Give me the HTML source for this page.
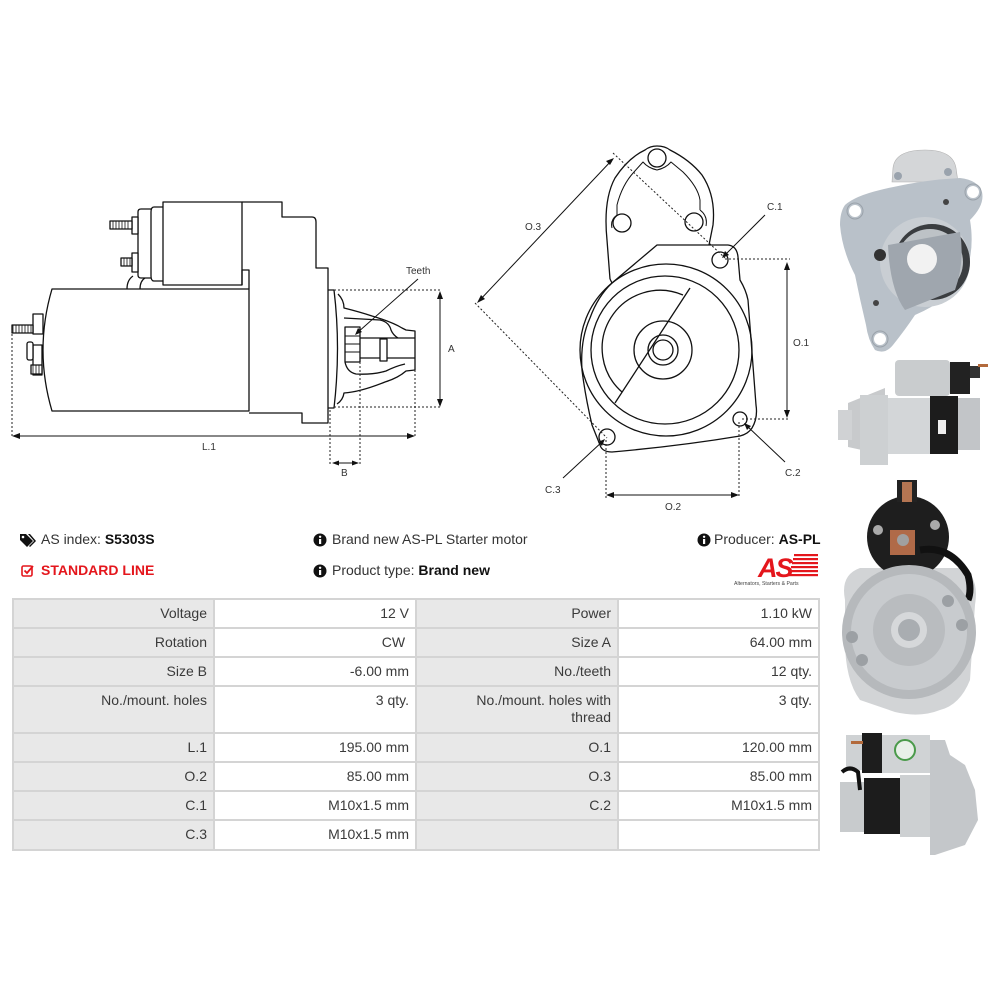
<!DOCTYPE html>
<html><head><meta charset="utf-8">
<style>
html,body{margin:0;padding:0;background:#fff;}
body{width:1000px;height:1000px;position:relative;overflow:hidden;font-family:"Liberation Sans",Arial,sans-serif;color:#333;}
.abs{position:absolute;white-space:nowrap;}
.hd{font-size:14px;color:#333;}
.hd b{color:#111;}
table{position:absolute;left:12px;top:598px;border-collapse:collapse;font-size:14px;color:#3a3a3a;}
td{border:2px solid #d4d4d4;text-align:right;vertical-align:top;padding:5px 6px 0 6px;line-height:17px;box-sizing:border-box;}
td.l{background:#e8e8e8;}
td.v{background:#fff;}
</style></head><body>

<svg class="abs" style="left:0;top:0" width="1000" height="1000" viewBox="0 0 1000 1000">
<g fill="none" stroke="#111" stroke-width="1.3" stroke-linejoin="round">
  <!-- LEFT SIDE VIEW -->
  <path d="M52,289 L249,289 L249,411 L52,411 Q34,350 52,289 Z" fill="#fff"/>
  <rect x="33" y="314" width="10" height="20" fill="#fff"/>
  <rect x="12" y="325" width="21" height="8" fill="#fff"/>
  <path d="M13,325 V333 M16,325 V333 M19,325 V333 M22,325 V333 M25,325 V333 M28,325 V333 M31,325 V333" stroke-width="0.8"/>
  <rect x="33" y="345" width="9" height="30" fill="#fff"/>
  <rect x="27" y="342" width="6" height="18" rx="2" fill="#fff"/>
  <rect x="31" y="365" width="11" height="9" fill="#fff"/>
  <path d="M33,365 V374 M36,365 V374 M39,365 V374" stroke-width="0.8"/>
  <rect x="163" y="202" width="79" height="83" fill="#fff"/>
  <path d="M163,207 L154,207 Q151,207 151,212 L151,276 Q151,281 154,281 L163,281"/>
  <path d="M151,209 L141,209 Q138,209 138,212 L138,275 Q138,278 141,278 L151,278"/>
  <rect x="132" y="217" width="6" height="17" fill="#fff"/>
  <rect x="110" y="221" width="22" height="8" fill="#fff"/>
  <path d="M113,221 V229 M116,221 V229 M119,221 V229 M122,221 V229 M125,221 V229 M128,221 V229" stroke-width="0.8"/>
  <rect x="132" y="253" width="6" height="19" fill="#fff"/>
  <rect x="121" y="258" width="11" height="8" fill="#fff"/>
  <path d="M124,258 V266 M127,258 V266 M130,258 V266" stroke-width="0.8"/>
  <path d="M127,289 Q127,280 133,276 M140,289 Q140,281 145,278"/>
  <path d="M242,202 L282,202 L282,217 L312,217 Q316,217 316,222 L316,268 L328,268 L328,423 L302,423 L302,413 L249,413" fill="none"/>
  <path d="M242,285 L242,270 L249,270 L249,289"/>
  <path d="M328,290 L334,290 Q341,348 334,408 L328,408"/>
  <path d="M338,294 Q344,300 344,308 Q360,312 372,316 Q392,322 402,328 L406,330 L415,331 L415,370 L406,371 Q398,378 385,382 Q360,392 344,393 Q343,400 337,404"/>
  <path d="M344,318 L380,320 Q389,322 391,330 Q393,335 398,338"/>
  <path d="M345,362 Q347,372 356,374 Q372,375 386,371 Q396,366 405,364"/>
  <rect x="345" y="327" width="15" height="35" fill="#fff"/>
  <path d="M345,336 H360 M345,344 H360 M345,352 H360" stroke-width="0.9"/>
  <path d="M360,338 H415 M360,358 H415"/>
  <rect x="380" y="339" width="7" height="22" fill="#fff"/>
</g>
<g fill="none" stroke="#222" stroke-width="1" stroke-dasharray="2,2">
  <path d="M12,330 V438 M415,370 V438"/>
  <path d="M334,290 H441 M334,407 H441"/>
  <path d="M330,410 V465 M360,362 V465"/>
</g>
<g fill="none" stroke="#111" stroke-width="1">
  <path d="M14,436 H413"/>
  <path d="M440,293 V405"/>
  <path d="M333,463 H358"/>
  <path d="M418,279 L357,333"/>
</g>
<g fill="#111">
  <path d="M12,436 L20,433 L20,439 Z"/>
  <path d="M415,436 L407,433 L407,439 Z"/>
  <path d="M440,291 L437,299 L443,299 Z"/>
  <path d="M440,407 L437,399 L443,399 Z"/>
  <path d="M332,463 L339,460.5 L339,465.5 Z"/>
  <path d="M359,463 L352,460.5 L352,465.5 Z"/>
  <path d="M355,335 L358,328 L362,332 Z"/>
</g>
<g font-family="Liberation Sans, sans-serif" font-size="10" fill="#333">
  <text x="406" y="274">Teeth</text>
  <text x="448" y="352">A</text>
  <text x="202" y="450">L.1</text>
  <text x="341" y="476">B</text>
</g>

<!-- MIDDLE FRONT VIEW -->
<g fill="none" stroke="#111" stroke-width="1.3" stroke-linejoin="round">
  <path d="M610,279 L607,240 Q603,200 615,178 Q628,158 645,150 Q650,146 657,146 Q665,146 670,150 Q690,160 702,175 Q716,196 713,225 L709,245" fill="#fff"/>
  <path d="M617,215 L617,205 Q622,185 634,172 L643,162 Q648,168 657,170 Q666,168 671,162 L683,172 Q698,187 700,200 L700,210" stroke-width="1"/>
  <path d="M617,215 Q610,220 612,228 M700,210 Q708,216 706,226" stroke-width="1"/>
  <circle cx="657" cy="158" r="9"/>
  <circle cx="622" cy="223" r="9"/>
  <circle cx="694" cy="222" r="9"/>
  <path d="M657,245 L728,245 Q737,246 738,257 L740,280 Q746,290 748,300 L756,405 Q758,418 752,428 Q748,434 740,436 Q680,446 612,452 Q602,452 600,445 Q596,435 592,425 Q585,395 582,370 Q580,340 590,318 Q598,296 612,283 Z" fill="#fff"/>
  <path d="M612,283 L610,279"/>
  <circle cx="666" cy="350" r="86"/>
  <circle cx="665" cy="350" r="74"/>
  <path d="M690,288 L615,403"/>
  <path d="M683,295 A58,58 0 0 0 622,392"/>
  <circle cx="663" cy="350" r="29"/>
  <circle cx="663" cy="350" r="15"/>
  <circle cx="663" cy="350" r="10"/>
  <circle cx="720" cy="260" r="8" fill="#fff"/>
  <circle cx="740" cy="419" r="7" fill="#fff"/>
  <circle cx="607" cy="437" r="8" fill="#fff"/>
</g>
<g fill="none" stroke="#222" stroke-width="1" stroke-dasharray="2,2">
  <path d="M613,153 L725,258"/>
  <path d="M475,303 L607,438"/>
  <path d="M725,259 H790 M742,419 H790"/>
  <path d="M606,440 V498 M739,422 V498"/>
</g>
<g fill="none" stroke="#111" stroke-width="1">
  <path d="M612,160 L479,301"/>
  <path d="M787,265 V415"/>
  <path d="M609,495 H736"/>
  <path d="M765,215 L724,256"/>
  <path d="M785,462 L746,425"/>
  <path d="M563,478 L603,441"/>
</g>
<g fill="#111">
  <path d="M614,158 L606,161 L610,165 Z"/>
  <path d="M477,303 L481,295 L485,299 Z"/>
  <path d="M787,262 L784,270 L790,270 Z"/>
  <path d="M787,418 L784,410 L790,410 Z"/>
  <path d="M606,495 L614,492 L614,498 Z"/>
  <path d="M739,495 L731,492 L731,498 Z"/>
  <path d="M722,258 L725,251 L729,255 Z"/>
  <path d="M744,423 L751,426 L747,430 Z"/>
  <path d="M605,439 L598,442 L602,446 Z"/>
</g>
<g font-family="Liberation Sans, sans-serif" font-size="10" fill="#333">
  <text x="525" y="230">O.3</text>
  <text x="767" y="210">C.1</text>
  <text x="793" y="346">O.1</text>
  <text x="785" y="476">C.2</text>
  <text x="545" y="493">C.3</text>
  <text x="665" y="510">O.2</text>
</g>

<!-- PHOTOS -->
<g>
  <path d="M893,168 Q895,150 925,150 Q953,150 956,168 L958,182 L892,182 Z" fill="#d4d6d8" stroke="#b0b0b0" stroke-width="0.6"/>
  <circle cx="898" cy="176" r="4" fill="#9aa3ad"/>
  <circle cx="948" cy="172" r="4" fill="#9aa3ad"/>
  <path d="M845,205 Q855,196 880,190 Q920,180 960,178 Q978,180 982,192 Q985,205 970,220 Q975,250 965,275 Q950,300 915,315 Q905,330 893,345 Q885,355 875,350 Q868,340 866,325 Q860,300 855,275 Q842,250 840,225 Q840,212 845,205 Z" fill="#b9c1c9"/>
  <circle cx="855" cy="211" r="6" fill="#fff"/><circle cx="855" cy="211" r="8" fill="none" stroke="#9aa2aa" stroke-width="1"/>
  <circle cx="973" cy="192" r="6" fill="#fff"/><circle cx="973" cy="192" r="8" fill="none" stroke="#9aa2aa" stroke-width="1"/>
  <circle cx="880" cy="339" r="6" fill="#fff"/><circle cx="880" cy="339" r="8" fill="none" stroke="#9aa2aa" stroke-width="1"/>
  <circle cx="925" cy="262" r="45" fill="#c9ced3"/>
  <circle cx="932" cy="262" r="38" fill="#3a3d40"/>
  <circle cx="930" cy="262" r="33" fill="#bdc2c6"/>
  <path d="M888,245 L960,232 Q965,262 955,290 L905,310 Q890,290 888,245 Z" fill="#9fa6ae"/>
  <circle cx="922" cy="259" r="15" fill="#f2f2f2"/>
  <circle cx="880" cy="255" r="6" fill="#333"/>
  <circle cx="876" cy="303" r="3" fill="#444"/>
  <circle cx="946" cy="202" r="3" fill="#444"/>
</g>
<g>
  <path d="M848,403 L885,388 L885,455 L848,447 Z" fill="#c8cacc"/>
  <rect x="838" y="410" width="14" height="30" fill="#d0d2d4"/>
  <rect x="860" y="395" width="28" height="70" fill="#cdd0d2"/>
  <rect x="888" y="398" width="42" height="56" fill="#d3d6d8"/>
  <rect x="930" y="396" width="28" height="58" fill="#1c1c1c"/>
  <rect x="958" y="398" width="22" height="52" fill="#c2c5c8"/>
  <rect x="895" y="360" width="55" height="36" rx="4" fill="#c9ccce"/>
  <rect x="950" y="362" width="20" height="32" fill="#222"/>
  <rect x="970" y="366" width="10" height="12" fill="#333"/>
  <rect x="978" y="364" width="10" height="3" fill="#b36a3c"/>
  <rect x="938" y="420" width="8" height="14" fill="#eee"/>
</g>
<g>
  <path d="M845,600 Q840,575 860,568 L960,568 Q980,575 975,605 L970,680 Q960,705 940,710 Q920,718 895,712 L860,700 Q845,680 845,640 Z" fill="#d2d4d6"/>
  <circle cx="908" cy="537" r="41" fill="#1e1e1e"/>
  <rect x="897" y="480" width="20" height="22" fill="#222"/>
  <rect x="902" y="482" width="10" height="20" fill="#b47552"/>
  <rect x="890" y="530" width="25" height="25" fill="#b06a48"/>
  <circle cx="903" cy="540" r="6" fill="#a0a0a0"/>
  <circle cx="935" cy="525" r="5" fill="#aaa"/>
  <circle cx="878" cy="530" r="5" fill="#aaa"/>
  <path d="M920,550 Q950,545 968,575 Q972,590 968,600" fill="none" stroke="#111" stroke-width="7"/>
  <circle cx="909" cy="632" r="67" fill="#b6b9bc"/>
  <circle cx="909" cy="632" r="58" fill="#c8cbce"/>
  <circle cx="909" cy="630" r="36" fill="#b9bcbf"/>
  <circle cx="909" cy="630" r="18" fill="#d6d8da"/>
  <circle cx="909" cy="630" r="11" fill="#a9adb1"/>
  <circle cx="962" cy="625" r="6" fill="#9ca0a4"/>
  <circle cx="948" cy="601" r="6" fill="#9ca0a4"/>
  <circle cx="852" cy="637" r="6" fill="#9ca0a4"/>
  <circle cx="862" cy="660" r="6" fill="#9ca0a4"/>
</g>
<g>
  <rect x="846" y="735" width="18" height="35" fill="#cfd2d4"/>
  <rect x="862" y="733" width="20" height="40" fill="#1d1d1d"/>
  <rect x="882" y="735" width="48" height="38" fill="#d0d3d5"/>
  <circle cx="905" cy="750" r="10" fill="#e8f0e8" stroke="#4a9a4a" stroke-width="2"/>
  <rect x="851" y="741" width="12" height="3" fill="#b36a3c"/>
  <rect x="840" y="782" width="24" height="50" fill="#c8cbcd"/>
  <rect x="864" y="778" width="36" height="56" fill="#1c1c1c"/>
  <rect x="900" y="775" width="40" height="62" fill="#cdd0d2"/>
  <path d="M930,740 L945,740 L950,755 L965,765 L975,790 L978,820 L965,845 L935,855 L930,855 Z" fill="#c4c7ca"/>
  <path d="M842,772 Q850,765 858,772 L860,790" fill="none" stroke="#111" stroke-width="4"/>
</g>
</svg>

<!-- HEADER INFO -->
<svg class="abs" style="left:20px;top:533px" width="16" height="14" viewBox="0 0 16 14">
  <path d="M0,1 L6,1 L13,8 L7,14 L0,7 Z" fill="#111"/>
  <path d="M8,1 L10,1 L16,8 L10,14 L9,13 L14,8 Z" fill="#111"/>
  <circle cx="3" cy="4" r="1.3" fill="#fff"/>
</svg>
<div class="abs hd" style="left:41px;top:531px;">AS index: <b>S5303S</b></div>

<svg class="abs" style="left:21px;top:564px" width="13" height="13" viewBox="0 0 13 13">
  <rect x="1" y="2" width="10" height="10" rx="1.5" fill="none" stroke="#e4161c" stroke-width="1.6"/>
  <path d="M3.5,6.5 L6,9 L12,2" fill="none" stroke="#e4161c" stroke-width="1.8"/>
</svg>
<div class="abs hd" style="left:41px;top:562px;color:#e4161c;font-weight:bold;">STANDARD LINE</div>

<svg class="abs" style="left:313px;top:533px" width="14" height="14" viewBox="0 0 14 14">
  <circle cx="7" cy="7" r="6.5" fill="#111"/>
  <rect x="6" y="6" width="2.2" height="5" fill="#fff"/><circle cx="7.1" cy="3.8" r="1.2" fill="#fff"/>
</svg>
<div class="abs hd" style="left:332px;top:531px;">Brand new AS-PL Starter motor</div>

<svg class="abs" style="left:313px;top:564px" width="14" height="14" viewBox="0 0 14 14">
  <circle cx="7" cy="7" r="6.5" fill="#111"/>
  <rect x="6" y="6" width="2.2" height="5" fill="#fff"/><circle cx="7.1" cy="3.8" r="1.2" fill="#fff"/>
</svg>
<div class="abs hd" style="left:332px;top:562px;">Product type: <b>Brand new</b></div>

<svg class="abs" style="left:697px;top:533px" width="14" height="14" viewBox="0 0 14 14">
  <circle cx="7" cy="7" r="6.5" fill="#111"/>
  <rect x="6" y="6" width="2.2" height="5" fill="#fff"/><circle cx="7.1" cy="3.8" r="1.2" fill="#fff"/>
</svg>
<div class="abs hd" style="left:714px;top:531px;">Producer: <b>AS-PL</b></div>

<svg class="abs" style="left:730px;top:552px" width="92" height="36" viewBox="0 0 92 36">
  <g fill="#e4161c">
    <rect x="64" y="2" width="24" height="2.2"/>
    <rect x="63" y="6" width="25" height="2.2"/>
    <rect x="62" y="10" width="26" height="2.2"/>
    <rect x="61" y="14" width="27" height="2.2"/>
    <rect x="60" y="18" width="28" height="2.2"/>
    <rect x="59" y="22" width="29" height="2.2"/>
  </g>
  <text x="28" y="25" font-family="Liberation Sans, sans-serif" font-size="27" font-weight="bold" font-style="italic" fill="#e4161c" letter-spacing="-2">AS</text>
  <text x="4" y="33" font-family="Liberation Sans, sans-serif" font-size="5.2" fill="#444">Alternators, Starters &amp; Parts</text>
</svg>

<table>
<colgroup><col style="width:201px"><col style="width:202px"><col style="width:202px"><col style="width:201px"></colgroup>
<tr style="height:29px"><td class="l">Voltage</td><td class="v">12 V</td><td class="l">Power</td><td class="v">1.10 kW</td></tr>
<tr style="height:29px"><td class="l">Rotation</td><td class="v">CW&nbsp;</td><td class="l">Size A</td><td class="v">64.00 mm</td></tr>
<tr style="height:29px"><td class="l">Size B</td><td class="v">-6.00 mm</td><td class="l">No./teeth</td><td class="v">12 qty.</td></tr>
<tr style="height:47px"><td class="l">No./mount. holes</td><td class="v">3 qty.</td><td class="l">No./mount. holes with<br>thread</td><td class="v">3 qty.</td></tr>
<tr style="height:29px"><td class="l">L.1</td><td class="v">195.00 mm</td><td class="l">O.1</td><td class="v">120.00 mm</td></tr>
<tr style="height:29px"><td class="l">O.2</td><td class="v">85.00 mm</td><td class="l">O.3</td><td class="v">85.00 mm</td></tr>
<tr style="height:29px"><td class="l">C.1</td><td class="v">M10x1.5 mm</td><td class="l">C.2</td><td class="v">M10x1.5 mm</td></tr>
<tr style="height:30px"><td class="l">C.3</td><td class="v">M10x1.5 mm</td><td class="l"></td><td class="v"></td></tr>
</table>

</body></html>
